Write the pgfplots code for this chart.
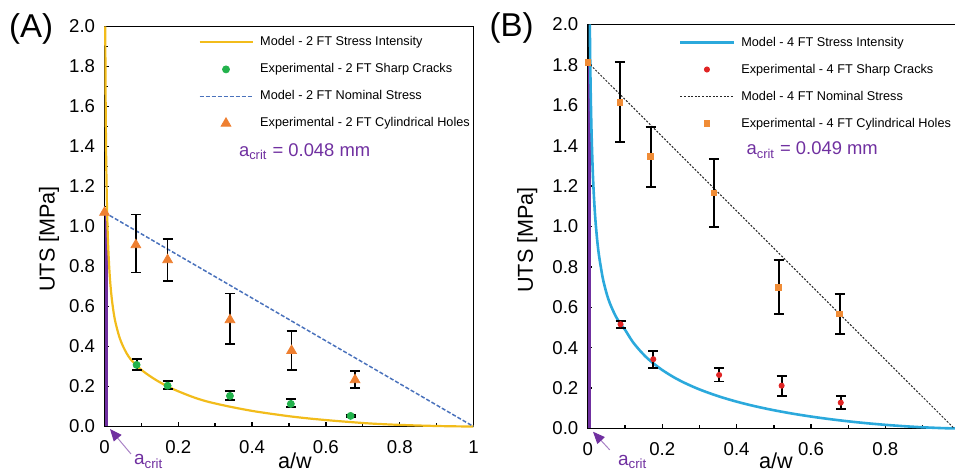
\documentclass[border=0pt]{standalone}
\usepackage{pgfplots}
\usepackage{pgfplotstable}
\pgfplotsset{compat=1.18}
\usepackage{fontspec}
\setmainfont{Liberation Sans}
\usetikzlibrary{arrows.meta}

\definecolor{goldcurve}{HTML}{F2BC1B}
\definecolor{crackgreen}{HTML}{22B24C}
\definecolor{nomblue}{HTML}{4A72BC}
\definecolor{holeorange}{HTML}{EE7F30}
\definecolor{cyancurve}{HTML}{2BA9DC}
\definecolor{crackred}{HTML}{E02424}
\definecolor{sqorange}{HTML}{F08C36}
\definecolor{critpurple}{HTML}{7030A0}

% ---- measured UTS, 2 FT specimens ----
\pgfplotstableread{
x      y      ep     em
0.085  0.908  0.152  0.138
0.171  0.833  0.103  0.106
0.340  0.533  0.132  0.122
0.507  0.379  0.099  0.096
0.679  0.233  0.046  0.039
}\holesA
\pgfplotstableread{
x      y      ep     em
0.087  0.308  0.031  0.025
0.171  0.204  0.025  0.018
0.340  0.153  0.026  0.020
0.505  0.113  0.025  0.017
0.667  0.053  0.004  0.004
}\cracksA
% ---- measured UTS, 4 FT specimens ----
\pgfplotstableread{
x      y      ep     em
0.086  1.615  0.198  0.198
0.169  1.346  0.148  0.149
0.339  1.167  0.167  0.171
0.513  0.698  0.136  0.133
0.677  0.568  0.098  0.099
}\holesB
\pgfplotstableread{
x      y      ep     em
0.088  0.516  0.018  0.020
0.176  0.343  0.042  0.042
0.353  0.265  0.036  0.032
0.521  0.212  0.049  0.051
0.680  0.128  0.033  0.030
}\cracksB

\pgfplotsset{
  utsaxis/.style={
    scale only axis,
    anchor=south west,
    ymin=0, ymax=2, xmin=0, xmax=1,
    clip=false,
    axis line style={line width=0.9pt},
    tick align=inside,
    xtick pos=bottom, ytick pos=left,
    minor x tick num=1, minor y tick num=1,
    major tick length=2.2pt, minor tick length=1.6pt,
    every tick/.style={black, line width=0.7pt},
    xtick={0,0.2,0.4,0.6,0.8,1},
    ytick={0,0.2,0.4,0.6,0.8,1,1.2,1.4,1.6,1.8,2},
    /pgf/number format/assume math mode=true,
    yticklabel={\pgfmathprintnumber[fixed,fixed zerofill,precision=1]{\tick}},
    ticklabel style={font=\fontsize{9.3}{10}\selectfont},
    xticklabel style={yshift=-3.5pt},
    yticklabel style={xshift=-1.2pt},
    label style={font=\fontsize{10.8}{12}\selectfont},
    xlabel={a/w},
    ylabel={UTS [MPa]},
    legend cell align=left,
    legend image code/.code={%
      \draw[mark repeat=2,mark phase=2,##1] plot coordinates {(0pt,0pt)(13.25pt,0pt)(26.5pt,0pt)};},
    legend style={draw=none, fill=none, inner sep=0pt, column sep=3.3pt, row sep=7pt,
      font=\fontsize{6.35}{7}\selectfont,
      nodes={inner sep=0pt, text height=5pt, text depth=1.5pt}},
    errbars/.style={error bars/.cd, y dir=both, y explicit,
      error bar style={black, line width=0.9pt},
      error mark options={black, rotate=90, mark size=2.5pt, line width=0.9pt}},
  },
}

\begin{document}
\begin{tikzpicture}
% ================= (A) 2 FT =================
\begin{axis}[utsaxis,
  at={(52.25pt,22.25pt)}, width=184.5pt, height=200pt,
  xticklabels={0,0.2,0.4,0.6,0.8,1},
  xlabel style={at={(axis description cs:0.516,-0.106)}, anchor=base},
  ylabel style={at={(axis description cs:-0.15,0.469)}, anchor=center},
  legend style={at={(axis cs:0.2534,1.955)}, anchor=north west},
]
\addplot[critpurple, line width=1.4pt, forget plot] coordinates {(0.005,0) (0.005,1.07)};
\addplot[goldcurve, line width=1.1pt, smooth] coordinates {
(0.0021,2.00) (0.0026,1.78) (0.0032,1.60) (0.004,1.43) (0.005,1.28)
(0.0065,1.12) (0.008,1.01) (0.010,0.90) (0.013,0.79) (0.016,0.71)
(0.020,0.635) (0.025,0.567) (0.030,0.518) (0.040,0.449) (0.050,0.402)
(0.060,0.366) (0.070,0.338) (0.087,0.305) (0.100,0.283) (0.120,0.256)
(0.140,0.232) (0.171,0.200) (0.200,0.176) (0.240,0.147) (0.280,0.124)
(0.340,0.099) (0.400,0.078) (0.450,0.064) (0.506,0.050) (0.560,0.039)
(0.620,0.029) (0.668,0.022) (0.720,0.015) (0.780,0.0095) (0.840,0.0055)
(0.900,0.0025) (0.950,0.0008) (1.000,0.0)};
\addlegendentry{Model - 2 FT Stress Intensity}
\addplot[only marks, mark=*, mark size=1.75pt, color=crackgreen, errbars]
  table[x=x, y=y, y error plus=ep, y error minus=em] {\cracksA};
\addlegendentry{Experimental - 2 FT Sharp Cracks}
\addplot[nomblue, line width=0.75pt, dash pattern=on 2pt off 1pt] coordinates {(0,1.07) (1,0)};
\addlegendentry{Model - 2 FT Nominal Stress}
\addplot[only marks, mark=triangle*, mark size=2.8pt, color=holeorange, errbars]
  table[x=x, y=y, y error plus=ep, y error minus=em] {\holesA};
\addlegendentry{Experimental - 2 FT Cylindrical Holes}
\addplot[only marks, mark=triangle*, mark size=2.8pt, color=holeorange, forget plot]
  coordinates {(0,1.07)};
\node[anchor=base west, text=critpurple, font=\fontsize{9.2}{10}\selectfont]
  at (axis cs:0.3455,1.349) {a\textsubscript{crit} = 0.048 mm};
\draw[-{Triangle[length=6pt,width=5pt,color=critpurple]}, line width=0.5pt, critpurple!60]
  (axis cs:0.0718,-0.1375) -- (axis cs:0.0149,-0.0125);
\node[anchor=base west, text=critpurple, font=\fontsize{9.5}{10}\selectfont]
  at (axis cs:0.061,-0.1925) {a\textsubscript{crit}};
\node[font=\fontsize{16.5}{18}\selectfont] at (axis description cs:-0.199,0.994) {(A)};
\end{axis}

% ================= (B) 4 FT =================
\begin{axis}[utsaxis,
  at={(293.9pt,21.25pt)}, width=186pt, height=202pt,
  xticklabels={0,0.2,0.4,0.6,0.8,{}},
  xlabel style={at={(axis description cs:0.506,-0.1)}, anchor=base},
  ylabel style={at={(axis description cs:-0.163,0.467)}, anchor=center},
  legend style={at={(axis cs:0.2445,1.945)}, anchor=north west},
]
\addplot[critpurple, line width=1.4pt, forget plot] coordinates {(0.005,0) (0.005,1.813)};
\addplot[cyancurve, line width=1.3pt, smooth] coordinates {
(0.0054,2.00) (0.0065,1.818) (0.008,1.640) (0.010,1.468) (0.013,1.290)
(0.016,1.165) (0.020,1.044) (0.025,0.937) (0.030,0.858) (0.040,0.747)
(0.050,0.672) (0.060,0.617) (0.075,0.556) (0.090,0.512) (0.100,0.489)
(0.120,0.431) (0.140,0.386) (0.160,0.348) (0.180,0.317) (0.200,0.2896)
(0.230,0.255) (0.260,0.226) (0.300,0.1935) (0.350,0.1603) (0.400,0.133)
(0.450,0.110) (0.500,0.0905) (0.550,0.0737) (0.600,0.0591) (0.650,0.0465)
(0.700,0.0355) (0.750,0.0261) (0.800,0.0181) (0.850,0.0114) (0.900,0.0060)
(0.950,0.0021) (0.980,0.0005) (1.000,0.0)};
\addlegendentry{Model - 4 FT Stress Intensity}
\addplot[only marks, mark=*, mark size=1.3pt, color=crackred, errbars]
  table[x=x, y=y, y error plus=ep, y error minus=em] {\cracksB};
\addlegendentry{Experimental - 4 FT Sharp Cracks}
\addplot[black!85, line width=0.5pt, dash pattern=on 1pt off 0.8pt] coordinates {(0,1.813) (0.985,0)};
\addlegendentry{Model - 4 FT Nominal Stress}
\addplot[only marks, mark=square*, mark size=1.4pt, color=sqorange, errbars]
  table[x=x, y=y, y error plus=ep, y error minus=em] {\holesB};
\addlegendentry{Experimental - 4 FT Cylindrical Holes}
\addplot[only marks, mark=square*, mark size=1.4pt, color=sqorange, forget plot]
  coordinates {(0,1.813)};
\node[anchor=base west, text=critpurple, font=\fontsize{9.2}{10}\selectfont]
  at (axis cs:0.408,1.354) {a\textsubscript{crit} = 0.049 mm};
\draw[-{Triangle[length=6pt,width=5pt,color=critpurple]}, line width=0.5pt, critpurple!60]
  (axis cs:0.059,-0.106) -- (axis cs:0.014,-0.016);
\node[anchor=base west, text=critpurple, font=\fontsize{9.5}{10}\selectfont]
  at (axis cs:0.0624,-0.181) {a\textsubscript{crit}};
\node[font=\fontsize{16.5}{18}\selectfont] at (axis description cs:-0.205,0.991) {(B)};
\end{axis}

\pgfresetboundingbox
\useasboundingbox (0pt,0pt) rectangle (477.5pt,235.5pt);
\end{tikzpicture}
\end{document}
